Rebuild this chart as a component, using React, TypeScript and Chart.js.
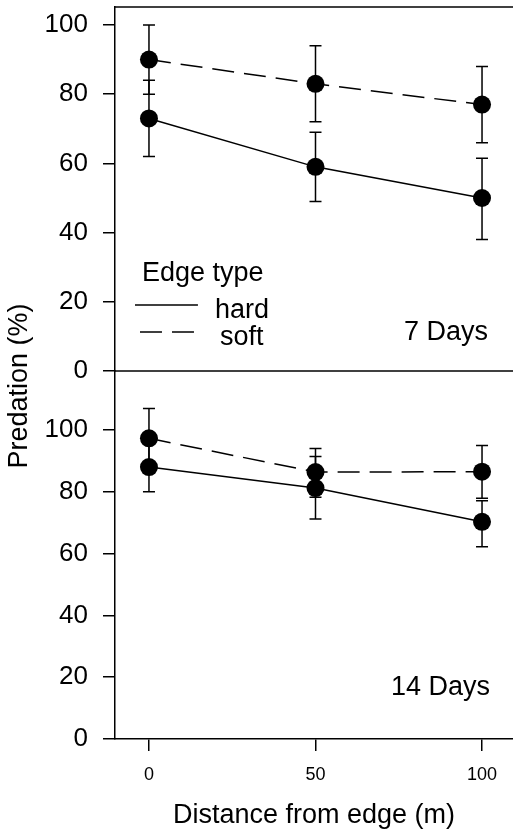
import React, { useEffect, useRef } from "react";
import { Chart, registerables } from "chart.js";

Chart.register(...registerables);

// ---------- data ----------
const distances = [0, 50, 100];
const seriesNames = ["hard", "soft"];
const panelLabels = ["7 Days", "14 Days"];
const legendTitle = "Edge type";
const yAxisTitle = "Predation (%)";
const xAxisTitle = "Distance from edge (m)";

// 7 days
const hard7 = [73, 59, 50];
const hard7Low = [62, 49, 38];
const hard7High = [84, 69, 61.5];
const soft7 = [90, 83, 77];
const soft7Low = [80, 72, 66];
const soft7High = [100, 94, 88];

// 14 days
const hard14 = [88, 81.2, 70.3];
const hard14Low = [80, 71.2, 62.2];
const hard14High = [96, 91.4, 77.1];
const soft14 = [97.3, 86.4, 86.5];
const soft14Low = [87.5, 78.2, 77.9];
const soft14High = [107, 94, 95];

const X_MIN = -10.2;
const X_MAX = 109.3;
const Y_MAX_TOP = 105.2;
const Y_MAX_BOTTOM = 119.1;

// ---------- styles ----------
const FONT = "'Liberation Sans', Arial, Helvetica, sans-serif";
const BLACK = "#000";
const SOFT_DASH = [22, 10];
const BIG = 27;

const errorBarPlugin = {
  id: "errorBars",
  afterDatasetsDraw(chart: any) {
    const ctx = chart.ctx;
    const xs = chart.scales.x;
    const ys = chart.scales.y;
    ctx.save();
    ctx.strokeStyle = BLACK;
    ctx.lineWidth = 1.5;
    ctx.setLineDash([]);
    chart.data.datasets.forEach((ds: any) => {
      ds.data.forEach((p: any, i: number) => {
        const px = xs.getPixelForValue(p.x);
        const lo = ys.getPixelForValue(ds.errLow[i]);
        const hi = ys.getPixelForValue(ds.errHigh[i]);
        ctx.beginPath();
        ctx.moveTo(px, lo);
        ctx.lineTo(px, hi);
        ctx.moveTo(px - 6, lo);
        ctx.lineTo(px + 6, lo);
        ctx.moveTo(px - 6, hi);
        ctx.lineTo(px + 6, hi);
        ctx.stroke();
      });
    });
    ctx.restore();
  },
};

const decorPlugin = {
  id: "decor",
  afterDraw(chart: any) {
    const ctx = chart.ctx;
    const { left, right, top } = chart.chartArea;
    const xs = chart.scales.x;
    const ys = chart.scales.y;
    const isTop = chart.options.plugins.panelInfo.isTop;
    ctx.save();
    // top border of panel
    ctx.strokeStyle = BLACK;
    ctx.lineWidth = 1.5;
    ctx.beginPath();
    ctx.moveTo(left, top);
    ctx.lineTo(right, top);
    ctx.stroke();

    ctx.fillStyle = BLACK;
    ctx.font = `${BIG}px ${FONT}`;
    ctx.textBaseline = "alphabetic";
    ctx.textAlign = "right";
    if (isTop) {
      ctx.fillText(panelLabels[0], xs.getPixelForValue(101.8), ys.getPixelForValue(9));
      // legend
      ctx.textAlign = "left";
      ctx.fillText(legendTitle, xs.getPixelForValue(-2.1), ys.getPixelForValue(26));
      const ds = chart.data.datasets;
      const rows = [
        { x0: -4.2, x1: 14.7, y: 19.1, tx: 19.8, ty: 15.3 },
        { x0: -2.7, x1: 16.2, y: 11.3, tx: 21.3, ty: 7.5 },
      ];
      rows.forEach((r, i) => {
        ctx.lineWidth = 1.5;
        ctx.setLineDash(ds[i].borderDash || []);
        ctx.beginPath();
        const ly = ys.getPixelForValue(r.y);
        ctx.moveTo(xs.getPixelForValue(r.x0), ly);
        ctx.lineTo(xs.getPixelForValue(r.x1), ly);
        ctx.stroke();
        ctx.setLineDash([]);
        ctx.fillText(seriesNames[i], xs.getPixelForValue(r.tx), ys.getPixelForValue(r.ty));
      });
      // shared y axis title
      ctx.save();
      ctx.translate(left - 95, 386);
      ctx.rotate(-Math.PI / 2);
      ctx.textAlign = "center";
      ctx.textBaseline = "middle";
      ctx.fillText(yAxisTitle, 0, 0);
      ctx.restore();
    } else {
      ctx.fillText(panelLabels[1], xs.getPixelForValue(102.4), ys.getPixelForValue(14.2));
    }
    ctx.restore();
  },
};

function makeChart(canvas: HTMLCanvasElement, isTop: boolean) {
  const hard = isTop ? hard7 : hard14;
  const hardLow = isTop ? hard7Low : hard14Low;
  const hardHigh = isTop ? hard7High : hard14High;
  const soft = isTop ? soft7 : soft14;
  const softLow = isTop ? soft7Low : soft14Low;
  const softHigh = isTop ? soft7High : soft14High;

  const pointStyle = {
    borderColor: BLACK,
    backgroundColor: BLACK,
    borderWidth: 1.5,
    pointRadius: 9,
    pointHoverRadius: 9,
    pointBackgroundColor: BLACK,
    pointBorderColor: BLACK,
    pointBorderWidth: 0,
    fill: false,
    tension: 0,
    clip: false,
  };

  return new Chart(canvas, {
    type: "line",
    data: {
      datasets: [
        {
          label: seriesNames[0],
          data: distances.map((x, i) => ({ x, y: hard[i] })),
          errLow: hardLow,
          errHigh: hardHigh,
          ...pointStyle,
        } as any,
        {
          label: seriesNames[1],
          data: distances.map((x, i) => ({ x, y: soft[i] })),
          errLow: softLow,
          errHigh: softHigh,
          borderDash: SOFT_DASH,
          ...pointStyle,
        } as any,
      ],
    },
    options: {
      responsive: false,
      animation: false,
      devicePixelRatio: 1,
      events: [],
      layout: {
        autoPadding: false,
        padding: isTop
          ? { top: 7, bottom: 461, left: 0, right: 0 }
          : { top: 371, bottom: 0, left: 0, right: 0 },
      },
      plugins: {
        legend: { display: false },
        tooltip: { enabled: false },
        panelInfo: { isTop },
      } as any,
      scales: {
        x: {
          type: "linear",
          min: X_MIN,
          max: X_MAX,
          display: !isTop,
          ticks: {
            stepSize: 50,
            includeBounds: false,
            color: BLACK,
            font: { family: FONT, size: 18 },
            padding: 13,
          },
          grid: {
            drawOnChartArea: false,
            drawTicks: true,
            tickLength: 12,
            color: BLACK,
            lineWidth: 1.5,
          },
          border: { display: true, color: BLACK, width: 1.5 },
          title: {
            display: true,
            text: xAxisTitle,
            color: BLACK,
            font: { family: FONT, size: BIG },
            padding: { top: 0, bottom: 0 },
          },
          afterFit: (s: any) => {
            if (!isTop) {
              s.height = 93;
            }
            s.paddingLeft = 0;
            s.paddingRight = 0;
          },
        },
        y: {
          type: "linear",
          min: 0,
          max: isTop ? Y_MAX_TOP : Y_MAX_BOTTOM,
          ticks: {
            stepSize: 20,
            includeBounds: false,
            color: BLACK,
            font: { family: FONT, size: 26 },
            padding: 15,
          },
          grid: {
            drawOnChartArea: false,
            drawTicks: true,
            tickLength: 12,
            color: BLACK,
            lineWidth: 1.5,
          },
          border: { display: true, color: BLACK, width: 1.5 },
          afterFit: (s: any) => {
            s.width = 115;
            s.paddingTop = 0;
            s.paddingBottom = 0;
          },
        },
      },
    } as any,
    plugins: [errorBarPlugin, decorPlugin],
  });
}

export default function App() {
  const topRef = useRef<HTMLCanvasElement>(null);
  const botRef = useRef<HTMLCanvasElement>(null);

  useEffect(() => {
    const c1 = makeChart(topRef.current!, true);
    const c2 = makeChart(botRef.current!, false);
    return () => {
      c1.destroy();
      c2.destroy();
    };
  }, []);

  const canvasStyle: React.CSSProperties = {
    position: "absolute",
    left: 0,
    top: 0,
    width: 513,
    height: 832,
    display: "block",
  };

  return (
    <div
      style={{
        position: "absolute",
        left: 0,
        top: 0,
        width: 513,
        height: 832,
        background: "#fff",
        overflow: "hidden",
      }}
    >
      <canvas ref={topRef} width={513} height={832} style={canvasStyle} />
      <canvas ref={botRef} width={513} height={832} style={canvasStyle} />
    </div>
  );
}
